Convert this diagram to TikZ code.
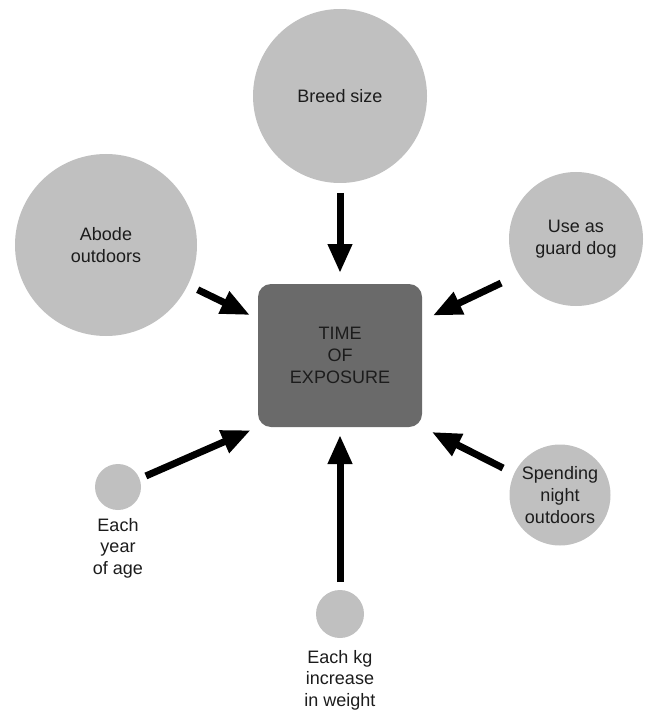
\documentclass[tikz,border=0pt]{standalone}
\usepackage{fontspec}
\setmainfont{Liberation Sans}
\definecolor{CircleGrey}{RGB}{192,192,192}
\definecolor{BoxGrey}{RGB}{106,106,106}
\definecolor{TextDark}{RGB}{28,28,28}
\usetikzlibrary{arrows.meta,positioning}

\begin{document}
\begin{tikzpicture}[x=1pt,y=-1pt,
  factor/.style={circle,fill=CircleGrey,inner sep=0pt,outer sep=0pt,align=center,text=TextDark,font=\fontsize{18}{22}\selectfont},
  caption/.style={align=center,inner sep=0pt,text=TextDark,font=\fontsize{18}{21.5}\selectfont},
  push/.style={line width=7pt,-{Triangle[length=29pt,width=23pt]}}]
\useasboundingbox (0,0) rectangle (647,711);
% centre box
\node[rectangle,rounded corners=13pt,fill=BoxGrey,outer sep=0pt,minimum width=164pt,minimum height=143pt,align=center,text=TextDark,font=\fontsize{18}{22}\selectfont] (exposure) at (340,355.5) {TIME\\OF\\EXPOSURE};
% factors
\node[factor,minimum size=174pt] (breed) at (340,96) {Breed size};
\node[factor,minimum size=182pt] (abode) at (106,245) {Abode\\outdoors};
\node[factor,minimum size=134pt] (guard) at (576,239) {Use as\\guard dog};
\node[factor,minimum size=101pt] (night) at (560,495) {Spending\\night\\outdoors};
\node[factor,minimum size=46pt] (year) at (118,487) {};
\node[factor,minimum size=48pt] (kg) at (340,614) {};
\node[caption,below=8pt of year] (yearlbl) {Each\\year\\of age};
\node[caption,below=12pt of kg] (kglbl) {Each kg\\increase\\in weight};
% arrows into the box
\draw[push,shorten <=10pt,shorten >=11pt] (breed) -- (exposure);
\draw[push,shorten <=11pt,shorten >=9pt] (abode.-26) -- (exposure.156);
\draw[push,shorten <=20pt,shorten >=12pt] (guard.212) -- (exposure.23);
\draw[push,shorten <=12.5pt,shorten >=11pt] (night.155) -- (exposure.south east);
\draw[push,shorten <=7pt,shorten >=8pt] (year.21) -- (exposure.south west);
\draw[push,shorten <=8pt,shorten >=8pt] (kg) -- (exposure);
\end{tikzpicture}
\end{document}
